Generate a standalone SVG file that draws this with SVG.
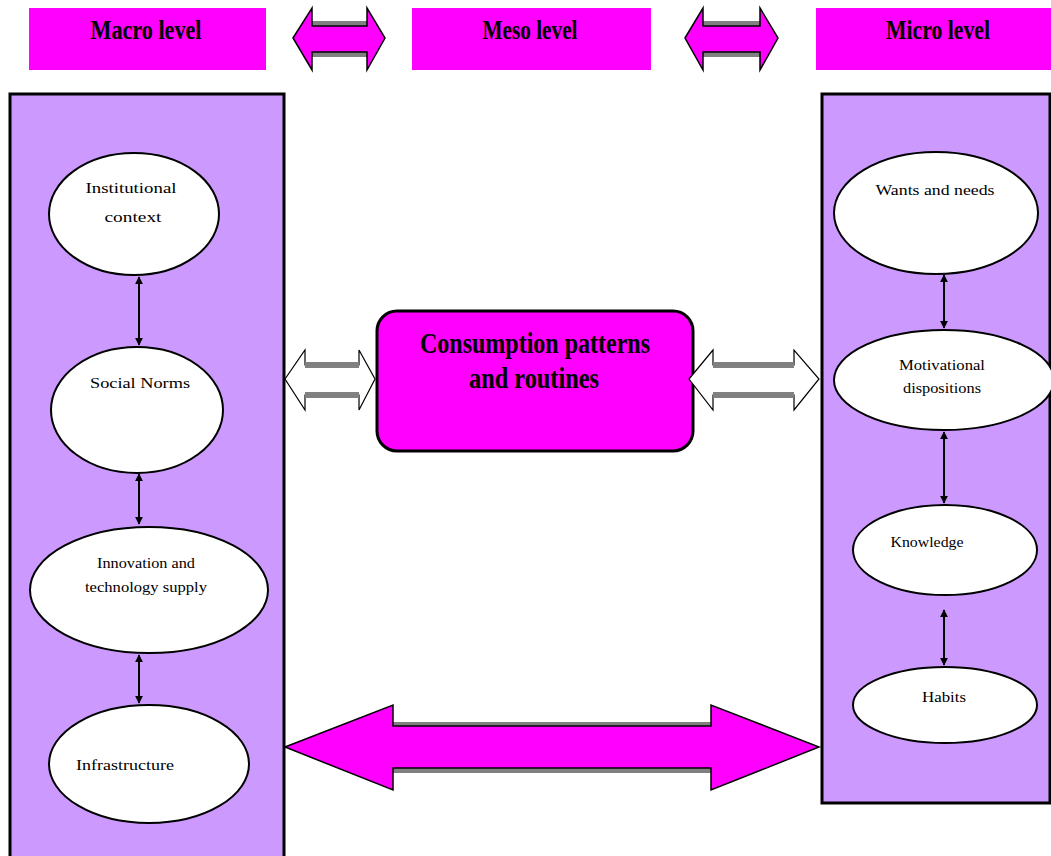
<svg xmlns="http://www.w3.org/2000/svg" width="1051" height="856" viewBox="0 0 1051 856">
<style>
.hdr{fill:#ff00ff;stroke:none}
.hdrt{font-family:"Liberation Serif",serif;font-weight:bold;font-size:27px;fill:#000;text-anchor:middle}
.panel{fill:#cc99ff;stroke:#000;stroke-width:3}
.ell{fill:#fff;stroke:#000;stroke-width:2}
.et{font-family:"Liberation Serif",serif;font-size:15px;fill:#000;text-anchor:middle}
.conn{stroke:#000;stroke-width:2;fill:none;marker-start:url(#ah);marker-end:url(#ah)}
.mag{fill:#ff00ff;stroke:#000;stroke-width:1.5}
.hol{fill:#fff;stroke:#000;stroke-width:1.2}
.shadow{fill:#808080}
.gline{stroke:#808080;stroke-width:6}
.ctr{fill:#ff00ff;stroke:#000;stroke-width:3}
.ct{font-family:"Liberation Serif",serif;font-weight:bold;font-size:30px;fill:#000;text-anchor:middle}
</style>
<defs>
<marker id="ah" viewBox="0 0 10 10" refX="9" refY="5" markerWidth="4" markerHeight="4" orient="auto-start-reverse" markerUnits="strokeWidth">
<path d="M0,0 L10,5 L0,10 z" fill="#000"/>
</marker>
</defs>

<g id="macro-header">
<rect class="hdr" x="29" y="8" width="237" height="62"/>
<text class="hdrt" x="146" y="39" textLength="111" lengthAdjust="spacingAndGlyphs">Macro level</text>
</g>
<g id="meso-header">
<rect class="hdr" x="412" y="8" width="239" height="62"/>
<text class="hdrt" x="530" y="39" textLength="95" lengthAdjust="spacingAndGlyphs">Meso level</text>
</g>
<g id="micro-header">
<rect class="hdr" x="816" y="8" width="235" height="62"/>
<text class="hdrt" x="938" y="39" textLength="104" lengthAdjust="spacingAndGlyphs">Micro level</text>
</g>

<g id="macro-panel">
<rect class="panel" x="10" y="94" width="274" height="770"/>
</g>
<g id="micro-panel">
<rect class="panel" x="822" y="94" width="228" height="709"/>
</g>

<g id="institutional-context">
<ellipse class="ell" cx="134" cy="214" rx="85" ry="61"/>
<text class="et" x="131" y="193" textLength="91" lengthAdjust="spacingAndGlyphs">Institutional</text>
<text class="et" x="133" y="222" textLength="57" lengthAdjust="spacingAndGlyphs">context</text>
</g>
<g id="social-norms">
<ellipse class="ell" cx="137" cy="410" rx="86" ry="63"/>
<text class="et" x="140" y="388" textLength="100" lengthAdjust="spacingAndGlyphs">Social Norms</text>
</g>
<g id="innovation">
<ellipse class="ell" cx="149" cy="590" rx="119" ry="63"/>
<text class="et" x="146" y="568" textLength="98" lengthAdjust="spacingAndGlyphs">Innovation and</text>
<text class="et" x="146" y="592" textLength="122" lengthAdjust="spacingAndGlyphs">technology supply</text>
</g>
<g id="infrastructure">
<ellipse class="ell" cx="149" cy="764" rx="100" ry="59"/>
<text class="et" x="125" y="770" textLength="98" lengthAdjust="spacingAndGlyphs">Infrastructure</text>
</g>

<g id="wants-needs">
<ellipse class="ell" cx="936" cy="213" rx="102" ry="61"/>
<text class="et" x="935" y="195" textLength="119" lengthAdjust="spacingAndGlyphs">Wants and needs</text>
</g>
<g id="motivational">
<ellipse class="ell" cx="944" cy="380" rx="110" ry="50"/>
<text class="et" x="942" y="370" textLength="86" lengthAdjust="spacingAndGlyphs">Motivational</text>
<text class="et" x="942" y="393" textLength="78" lengthAdjust="spacingAndGlyphs">dispositions</text>
</g>
<g id="knowledge">
<ellipse class="ell" cx="945" cy="550" rx="92" ry="45"/>
<text class="et" x="927" y="547" textLength="73" lengthAdjust="spacingAndGlyphs">Knowledge</text>
</g>
<g id="habits">
<ellipse class="ell" cx="945" cy="705" rx="92" ry="38"/>
<text class="et" x="944" y="702" textLength="44" lengthAdjust="spacingAndGlyphs">Habits</text>
</g>

<g id="consumption">
<rect class="ctr" x="377" y="311" width="316" height="140" rx="20" ry="20"/>
<text class="ct" x="535" y="353" textLength="230" lengthAdjust="spacingAndGlyphs">Consumption patterns</text>
<text class="ct" x="534" y="388" textLength="130" lengthAdjust="spacingAndGlyphs">and routines</text>
</g>

<g id="connectors">
<line class="conn" x1="139" y1="277" x2="139" y2="345"/>
<line class="conn" x1="139" y1="474" x2="139" y2="524"/>
<line class="conn" x1="139" y1="655" x2="139" y2="703"/>
<line class="conn" x1="944" y1="275" x2="944" y2="328"/>
<line class="conn" x1="944" y1="432" x2="944" y2="503"/>
<line class="conn" x1="944" y1="610" x2="944" y2="665"/>

<g id="arrow-macro-meso">
<rect class="shadow" x="312" y="21" width="55" height="5"/>
<rect class="shadow" x="312" y="52" width="55" height="5"/>
<polygon class="mag" points="293,38 312,8 312,26 367,26 367,8 385,38 367,70 367,52 312,52 312,70"/>
</g>
<g id="arrow-meso-micro">
<rect class="shadow" x="703" y="21" width="57" height="5"/>
<rect class="shadow" x="703" y="52" width="57" height="5"/>
<polygon class="mag" points="685,38 703,8 703,26 760,26 760,8 778,38 760,70 760,52 703,52 703,70"/>
</g>
<g id="arrow-left-center">
<polygon class="hol" points="285,379 305,350 305,365 359,365 359,350 375,379 359,410 359,395 305,395 305,410"/>
<line class="gline" x1="305" y1="365" x2="359" y2="365"/>
<line class="gline" x1="305" y1="395" x2="359" y2="395"/>
</g>
<g id="arrow-center-right">
<polygon class="hol" points="689,379 713,350 713,365 794,365 794,350 819,379 794,410 794,395 713,395 713,410"/>
<line class="gline" x1="713" y1="365" x2="794" y2="365"/>
<line class="gline" x1="713" y1="395" x2="794" y2="395"/>
</g>
<g id="arrow-bottom">
<rect class="shadow" x="393" y="722" width="318" height="5"/>
<rect class="shadow" x="393" y="768" width="318" height="5"/>
<polygon class="mag" points="285,747 393,705 393,726 711,726 711,705 819,747 711,790 711,768 393,768 393,790"/>
</g>
</g>
</svg>
